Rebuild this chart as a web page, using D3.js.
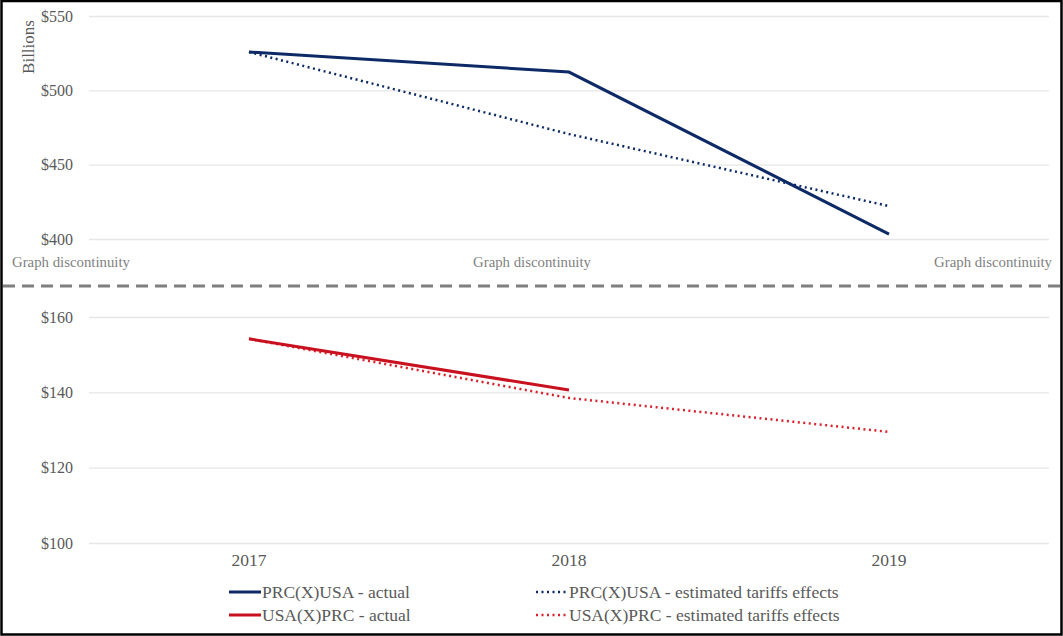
<!DOCTYPE html>
<html><head><meta charset="utf-8">
<script src="https://cdn.jsdelivr.net/npm/d3@7"></script>
<style>body{margin:0;background:#fff}svg{display:block}svg text{font-family:'Liberation Serif','Times New Roman',serif}</style>
</head><body>
<script>
const years = ["2017","2018","2019"];
const prcActual = [525.8, 512.3, 403.3];
const prcEstimated = [525.8, 470.6, 422.1];
const usaActual = [154.2, 140.6, null];
const usaEstimated = [154.2, 138.5, 129.5];
const topTicks = [400, 450, 500, 550];
const bottomTicks = [100, 120, 140, 160];
const tickLabels = v => "$" + v;

const W = 1063, H = 636;
const svg = d3.select("body").append("svg").attr("width", W).attr("height", H);
const font = "'Liberation Serif','Times New Roman',serif";
const gray = "#595959";
const navy = "#0D2A66", red = "#C8101E", red2 = "#D8222B";

const x = d3.scaleBand().domain(years).range([89, 1049]);
const xc = d => x(d) + x.bandwidth()/2;
const yTop = d3.scaleLinear().domain([400, 550]).range([239, 16]);
const yBot = d3.scaleLinear().domain([100, 160]).range([543, 317]);

function grid(scale, ticks) {
  const ax = d3.axisLeft(scale).tickValues(ticks).tickSize(-(1049-89)).tickFormat(tickLabels).tickPadding(16);
  const g = svg.append("g").attr("transform", "translate(89,0)").call(ax).attr("font-family", font);
  g.select(".domain").remove();
  g.selectAll(".tick line").attr("stroke", "#e6e6e6").attr("stroke-width", 1.3);
  g.selectAll(".tick text").attr("fill", gray).style("font-family", font).style("font-size", "16px");
}
grid(yTop, topTicks);
grid(yBot, bottomTicks);

const xa = svg.append("g").attr("transform", "translate(0,543)").call(d3.axisBottom(x).tickSize(0).tickPadding(11)).attr("font-family", font);
xa.select(".domain").remove();
xa.selectAll(".tick text").attr("fill", gray).style("font-family", font).style("font-size", "17.5px");

svg.append("text").attr("transform", "translate(34,47) rotate(-90)").attr("text-anchor", "middle")
  .attr("fill", gray).style("font-family", font).style("font-size", "17px").text("Billions");

[[12, "start"], [532, "middle"], [1052, "end"]].forEach(([px, anc]) => {
  svg.append("text").attr("x", px).attr("y", 267).attr("text-anchor", anc).attr("fill", "#7f7f7f")
    .style("font-family", font).style("font-size", "14.8px").text("Graph discontinuity");
});
svg.append("line").attr("x1", 3).attr("x2", 1062).attr("y1", 286).attr("y2", 286)
  .attr("stroke", "#7f7f7f").attr("stroke-width", 2.8).attr("stroke-dasharray", "12,7");

function series(vals, scale, color, dotted) {
  const line = d3.line().defined(d => d != null).x((d, i) => xc(years[i])).y(d => scale(d));
  svg.append("path").datum(vals).attr("d", line).attr("fill", "none").attr("stroke", color)
    .attr("stroke-width", dotted ? 2.5 : 3)
    .attr("stroke-dasharray", dotted ? "2,3.5" : null);
}
series(prcEstimated, yTop, navy, true);
series(prcActual, yTop, navy, false);
series(usaEstimated, yBot, red2, true);
series(usaActual, yBot, red, false);

const legend = [
  {label: "PRC(X)USA - actual", color: navy, dotted: false, x: 229, y: 592},
  {label: "PRC(X)USA - estimated tariffs effects", color: navy, dotted: true, x: 536, y: 592},
  {label: "USA(X)PRC - actual", color: red, dotted: false, x: 229, y: 615},
  {label: "USA(X)PRC - estimated tariffs effects", color: red2, dotted: true, x: 536, y: 615}
];
legend.forEach(l => {
  svg.append("line").attr("x1", l.x).attr("x2", l.x + 32).attr("y1", l.y).attr("y2", l.y)
    .attr("stroke", l.color).attr("stroke-width", l.dotted ? 2.5 : 3)
    .attr("stroke-dasharray", l.dotted ? "2,3.5" : null);
  svg.append("text").attr("x", l.x + 33).attr("y", l.y + 5.5).attr("fill", gray)
    .style("font-family", font).style("font-size", "17.5px").text(l.label);
});

svg.append("rect").attr("x", 1.5).attr("y", 1).attr("width", 1060).attr("height", 633.5)
  .attr("fill", "none").attr("stroke", "#000").attr("stroke-width", 2.5);
</script>
</body></html>
